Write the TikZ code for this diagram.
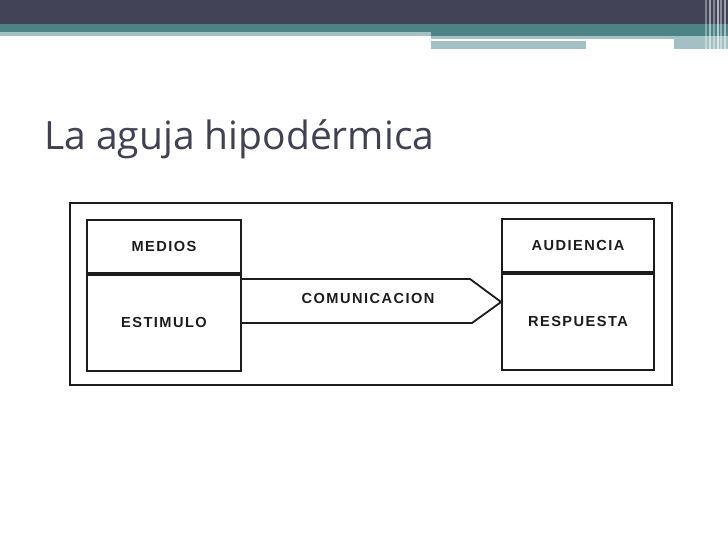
\documentclass[tikz,border=0pt]{standalone}
\usepackage{fontspec}
\setmainfont{Liberation Sans}
\newfontfamily\titlefont{Open Sans}
\newfontfamily\boxfont[LetterSpace=10]{Liberation Sans Bold}
\usetikzlibrary{positioning}
\definecolor{hdark}{HTML}{424356}
\definecolor{hteal}{HTML}{4B8387}
\definecolor{hlight}{HTML}{A3C1C4}
\definecolor{titlecol}{HTML}{404153}
\definecolor{ink}{HTML}{1C1C1C}
\tikzset{
  cell/.style={draw=ink, line width=1.8pt, minimum width=154pt, inner sep=0pt,
    font=\boxfont\fontsize{14.6}{16}\selectfont, text=ink},
  frame/.style={draw=ink, line width=1.9pt, minimum width=602pt, minimum height=182pt, inner sep=0pt},
  arrowline/.style={draw=ink, line width=1.8pt, line join=miter},
  lbl/.style={font=\boxfont\fontsize{14.6}{16}\selectfont, text=ink, inner sep=0pt}
}
\begin{document}
\begin{tikzpicture}[x=1pt,y=-1pt]
\useasboundingbox (0,0) rectangle (728,546);
% header bands
\fill[hdark] (0,0) rectangle (728,24);
\fill[hteal] (0,24) rectangle (728,32);
\fill[hlight] (0,32) rectangle (431,36);
\fill[hteal] (431,32) rectangle (728,36);
\fill[hlight] (431,36) rectangle (674,38.5);
\fill[hlight] (431,41) rectangle (586,49);
\fill[hlight] (674,36) rectangle (728,49);
\fill[white] (586,47) rectangle (674,49);
\foreach \xx/\op in {705/0.35,709/0.5,713/0.35,717/0.6,720/0.4,724/0.5}
  \fill[white,opacity=\op] (\xx,0) rectangle (\xx+1.5,49);
% title
\node[anchor=base west, inner sep=0pt, text=titlecol] (title) at (44,149)
  {\resizebox{390pt}{!}{\titlefont La aguja hipodérmica}};
% outer frame
\node[frame] (outer) at (371,294) {};
% left box
\node[cell, minimum height=53pt] (medios) at (164,246.5) {MEDIOS};
\node[cell, minimum height=96pt, anchor=north] (estimulo) at (medios.south) {ESTIMULO};
% right box
\node[cell, minimum width=152pt, minimum height=53pt] (audiencia) at (578,245.5) {AUDIENCIA};
\node[cell, minimum width=152pt, minimum height=96pt, anchor=north] (respuesta) at (audiencia.south) {RESPUESTA};
% communication arrow
\coordinate (a1) at (estimulo.east |- 0,279);
\coordinate (a2) at (470,279);
\coordinate (tip) at (respuesta.west |- 0,302);
\coordinate (a3) at (472,323);
\coordinate (a4) at (estimulo.east |- 0,323);
\draw[arrowline] (a1) -- (a2) -- (tip) -- (a3) -- (a4);
\node[lbl] (com) at (368,298) {COMUNICACION};
\end{tikzpicture}
\end{document}
